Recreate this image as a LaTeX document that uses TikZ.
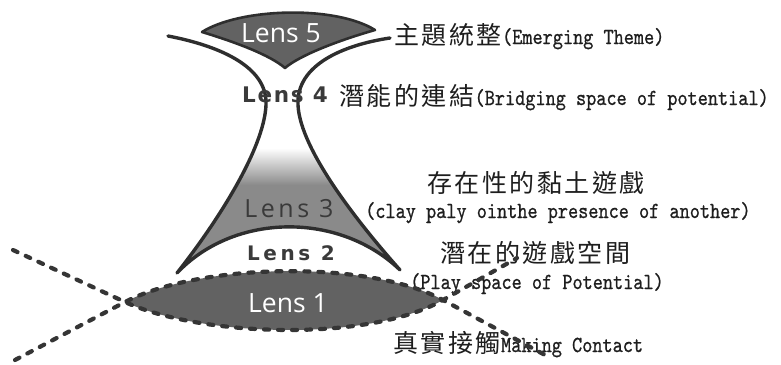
\documentclass[tikz,border=0pt]{standalone}
\usepackage{fontspec}
\newfontfamily\cjk[LetterSpace=10]{Noto Sans CJK TC}
\newfontfamily\monofont[FakeStretch=0.84,FakeBold=0.8]{lmmono10-regular.otf}
\newfontfamily\lensfont{Open Sans}
\newfontfamily\lensfontwide[LetterSpace=14]{Open Sans}
\newfontfamily\lensboldfour[LetterSpace=8]{DejaVu Sans Bold}
\newfontfamily\lensboldtwo[LetterSpace=18]{DejaVu Sans Bold}
\definecolor{lensfill}{HTML}{626262}
\definecolor{lensthree}{HTML}{8A8A8A}
\definecolor{linecol}{HTML}{2E2E2E}
\definecolor{dashcol}{HTML}{353535}
\definecolor{txt}{HTML}{1E1E1E}
\definecolor{lbl}{HTML}{3A3A3A}
\begin{document}
\begin{tikzpicture}[x=1pt,y=-1pt,
  edge/.style={draw=linecol, line width=3.4pt, line join=round, line cap=round},
  dashline/.style={draw=dashcol, line width=4.2pt, dash pattern=on 5pt off 9pt, line cap=round},
  cjktext/.style={font=\cjk\fontsize{25}{28}\selectfont, text=txt, inner sep=0pt, anchor=base west},
  entext/.style={font=\monofont\fontsize{23}{25}\selectfont, text=txt, inner sep=0pt, anchor=base west},
  whitelabel/.style={font=\lensfont\fontsize{26.5}{30}\selectfont, text=white, inner sep=0pt, anchor=base},
  graylabel/.style={font=\lensfontwide\fontsize{25}{28}\selectfont, text=lbl, inner sep=0pt, anchor=base},
  boldfourlabel/.style={font=\lensboldfour\fontsize{21.5}{24}\selectfont, text=lbl, inner sep=0pt, anchor=base},
  boldtwolabel/.style={font=\lensboldtwo\fontsize{20}{24}\selectfont, text=lbl, inner sep=0pt, anchor=base}
]
\useasboundingbox (0,0) rectangle (781,364);

% Lens 3 fill with fading top
\begin{scope}
  \clip (266,105) .. controls (264,150) and (215,225) .. (177,273)
        .. controls (235,212) and (340,212) .. (400,270)
        .. controls (360,225) and (300,150) .. (298,105) -- cycle;
  \fill[lensthree] (150,140) rectangle (420,290);
  \shade[top color=white, bottom color=lensthree] (150,148) rectangle (420,185);
  \fill[white] (150,90) rectangle (420,148);
\end{scope}

% Lens 1 fill
\fill[lensfill] (125,302) .. controls (200,263) and (368,259.5) .. (443,300)
      .. controls (368,342.7) and (200,336.5) .. (125,302) -- cycle;

% Lens 5
\filldraw[fill=lensfill, draw=linecol, line width=2.6pt, line join=round]
  (202,32) .. controls (240,8) and (335,5) .. (375,30)
  .. controls (340,40) and (300,55) .. (285,68)
  .. controls (270,55) and (235,42) .. (202,32) -- cycle;

% Lens 4 / Lens 3 / Lens 2 outline
\draw[edge] (168,36) .. controls (215,45) and (268,65) .. (266,105)
  .. controls (264,150) and (215,225) .. (177,273)
  .. controls (235,212) and (340,212) .. (400,270)
  .. controls (360,225) and (300,150) .. (298,105)
  .. controls (296,65) and (343,45) .. (390,38);

% Lens labels
\node[whitelabel] (l5) at (281,42) {Lens 5};
\node[boldfourlabel] (l4) at (285,102) {Lens 4};
\node[graylabel] (l3) at (289,217) {Lens 3};
\node[boldtwolabel] (l2) at (291,260) {Lens 2};
\node[whitelabel] (l1) at (288,312) {Lens 1};

% Texts
\node[cjktext] (t5) at (394,44) {主題統整};
\node[entext] (t5e) at (t5.base east) {(Emerging Theme)};
\node[cjktext] (t4) at (339,105) {潛能的連結};
\node[entext] (t4e) at (t4.base east) {(Bridging space of potential)};
\node[cjktext] (t3) at (427,192) {存在性的黏土遊戲};
\node[entext] (t3e) at (365,218) {(clay paly ointhe presence of another)};
\node[cjktext] (t2) at (440,262) {潛在的遊戲空間};
\node[entext] (t2e) at (410,289) {(Play space of Potential)};
\node[cjktext] (t1) at (393,352) {真實接觸};
\node[entext] (t1e) at (t1.base east) {Making Contact};

% Lens 1 dashed crossing curves
\draw[dashline] (13,250) -- (125,302) .. controls (200,336.5) and (368,342.7) .. (443,300) -- (517,258);
\draw[dashline] (15,360) -- (125,302) .. controls (200,263) and (368,259.5) .. (443,300) -- (545,355);
\end{tikzpicture}
\end{document}
